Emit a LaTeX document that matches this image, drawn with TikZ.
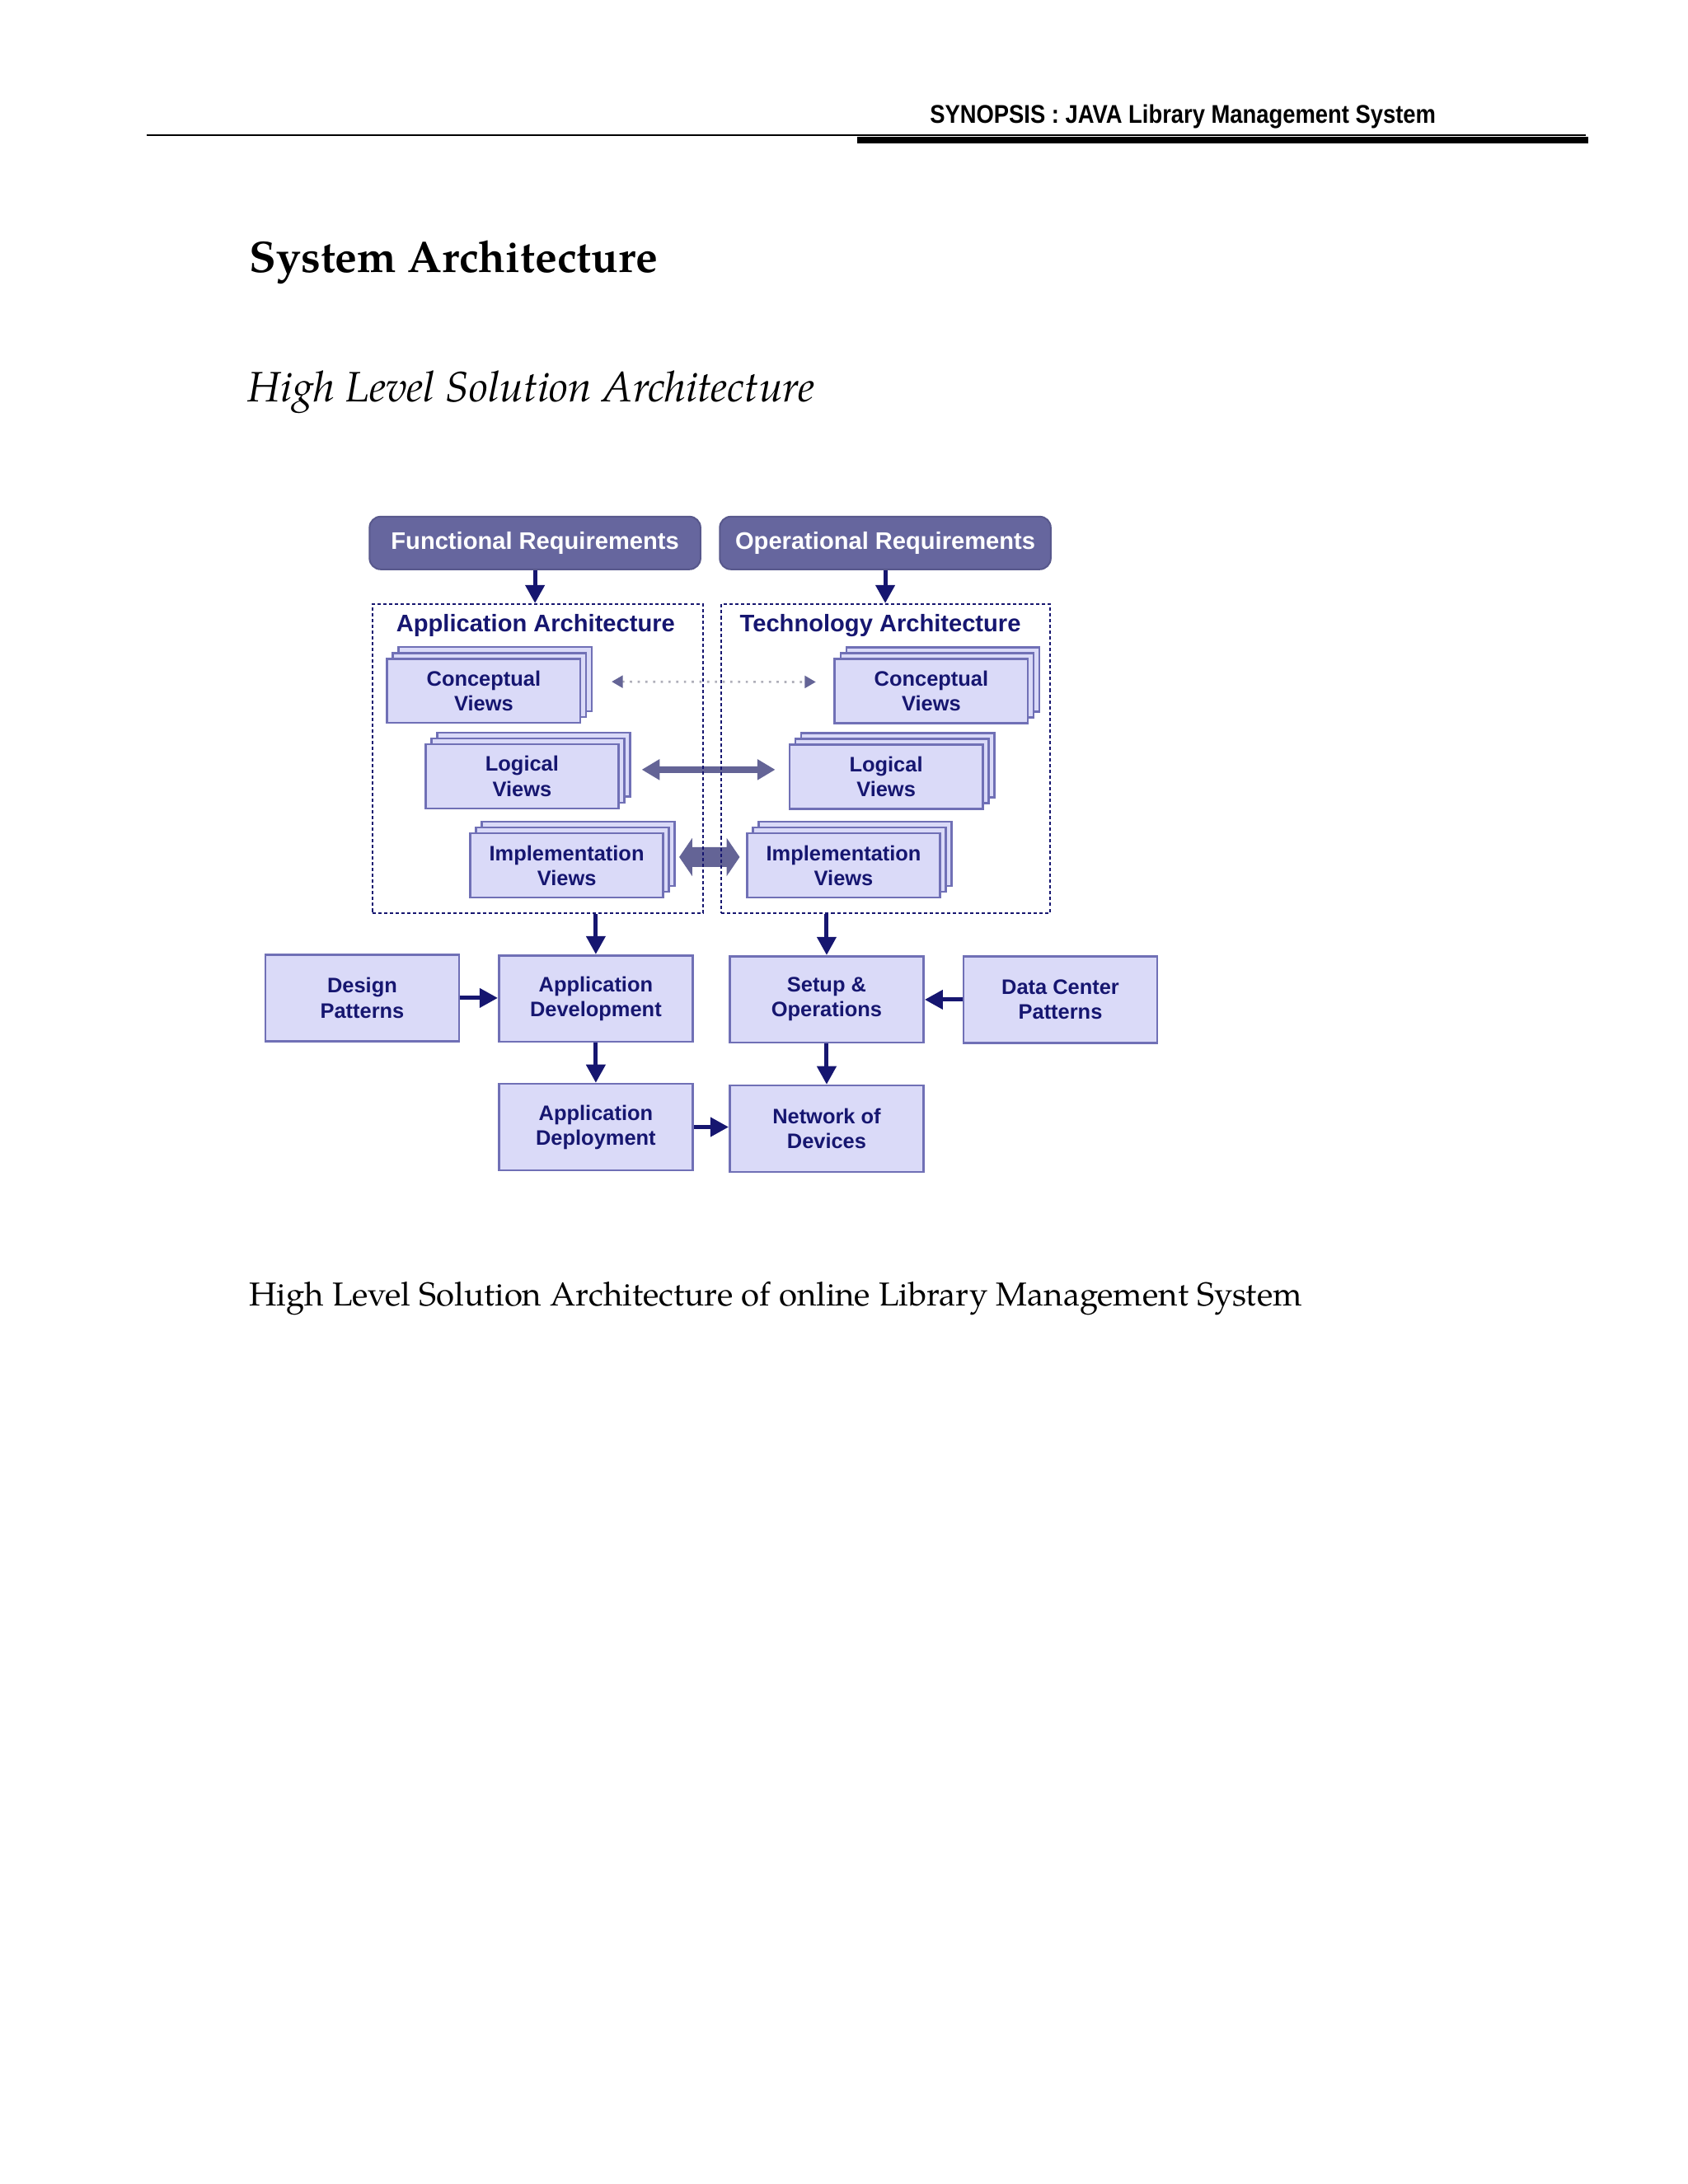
\documentclass[tikz,border=0pt]{standalone}
\usepackage{fontspec}
\setmainfont{TeX Gyre Pagella}
\newfontfamily\diagfont{Liberation Sans}
\newfontfamily\headfont[FakeStretch=0.88]{Liberation Sans}
\usetikzlibrary{arrows.meta,shadows}
\definecolor{reqfill}{RGB}{102,102,158}
\definecolor{reqline}{RGB}{88,88,140}
\definecolor{boxfill}{RGB}{218,218,248}
\definecolor{boxline}{RGB}{112,112,182}
\definecolor{navy}{RGB}{22,22,112}
\definecolor{slate}{RGB}{100,100,150}
\definecolor{dotgray}{RGB}{175,175,185}
\tikzset{
  reqbox/.style={draw=reqline, fill=reqfill, rounded corners=4pt, line width=0.6pt,
    minimum width=120pt, minimum height=19.1pt, inner sep=0pt, text=white,
    font=\diagfont\bfseries\fontsize{8.7}{10}\selectfont
  },
  archbox/.style={draw=navy, dash pattern=on 1.2pt off 0.9pt, line width=0.7pt,
    minimum height=112pt, inner sep=0pt
  },
  archlabel/.style={anchor=base west, inner sep=0pt, text=navy,
    font=\diagfont\bfseries\fontsize{8.7}{10}\selectfont
  },
  viewbox/.style={draw=boxline, fill=boxfill, line width=0.8pt, minimum width=70pt,
    minimum height=23.3pt, inner sep=0pt, align=center, text=navy,
    font=\diagfont\bfseries\fontsize{7.6}{9}\selectfont,
    double copy shadow={shadow xshift=2.1pt, shadow yshift=2.1pt, draw=boxline,
      fill=boxfill, line width=0.8pt}
  },
  stepbox/.style={draw=boxline, fill=boxfill, line width=0.8pt, minimum width=70.3pt,
    minimum height=31.3pt, inner sep=0pt, align=center, text=navy,
    font=\diagfont\bfseries\fontsize{7.6}{9}\selectfont
  },
  flow/.style={draw=navy, line width=1.5pt, -{Triangle[length=6.6pt,width=6.8pt]}},
  linkdots/.style={draw=dotgray, dotted, line width=0.8pt,
    {Triangle[length=4pt,width=4.4pt,color=slate]}-{Triangle[length=4pt,width=4.4pt,color=slate]}
  },
  linkfat/.style={draw=slate, line width=2.4pt,
    {Triangle[length=6.5pt,width=7.2pt]}-{Triangle[length=6.5pt,width=7.2pt]}
  },
  pagetext/.style={anchor=base west, inner sep=0pt}
}

\begin{document}
\begin{tikzpicture}[x=1pt,y=-1pt]
   \useasboundingbox[fill=white] (0,0) rectangle (612,792);

   % page header
   \node[pagetext, font=\headfont\bfseries\fontsize{9.3}{11}\selectfont] (header) at (337,44.8)
      {SYNOPSIS : JAVA Library Management System};
   \draw[line width=0.6pt] (53.2,49) -- (575,49);
   \draw[line width=2.4pt] (310.8,50.8) -- (575.9,50.8);

   \node[pagetext, font=\bfseries\fontsize{16}{19}\selectfont] (title) at (90.3,98.9)
      {System Architecture};
   \node[pagetext, font=\itshape\fontsize{15.4}{18}\selectfont] (subtitle) at (89.7,145.8)
      {High Level Solution Architecture};

   % requirements
   \node[reqbox] (funcreq) at (194,196.9) {Functional Requirements};
   \node[reqbox] (operreq) at (321,196.9) {Operational Requirements};

   % views
   \node[viewbox] (appconc) at (175.4,250.5) {Conceptual\\Views};
   \node[viewbox] (techconc) at (337.7,250.6) {Conceptual\\Views};
   \node[viewbox] (applog) at (189.3,281.5) {Logical\\Views};
   \node[viewbox] (techlog) at (321.3,281.7) {Logical\\Views};
   \node[viewbox] (appimpl) at (205.5,313.8) {Implementation\\Views};
   \node[viewbox] (techimpl) at (305.9,313.8) {Implementation\\Views};

   \draw[linkdots] ([xshift=11pt,yshift=3.3pt]appconc.east) -- ([xshift=-6.5pt,yshift=3.3pt]techconc.west);
   \draw[linkfat] ([xshift=8pt,yshift=2.4pt]applog.east) -- ([xshift=-4.8pt,yshift=2.6pt]techlog.west);
   \coordinate (impltip) at ([xshift=5.4pt,yshift=3pt]appimpl.east);
   \fill[slate, shift={(impltip)}] (0,0) -- (4.7,-6.9) -- (4.7,-3.6) -- (17.2,-3.6) -- (17.2,-6.9)
      -- (21.9,0) -- (17.2,6.9) -- (17.2,3.6) -- (4.7,3.6) -- (4.7,6.9) -- cycle;

   % architecture frames
   \node[archbox, minimum width=119.8pt] (apparch) at (195,275.1) {};
   \node[archbox, minimum width=119.3pt] (techarch) at (321.15,275.1) {};
   \node[archlabel] (applabel) at (143.5,229.2) {Application Architecture};
   \node[archlabel] (techlabel) at (268.1,229.2) {Technology Architecture};

   \draw[flow] (funcreq.south) -- (funcreq.south |- apparch.north);
   \draw[flow] (operreq.south) -- (operreq.south |- techarch.north);

   % delivery
   \node[stepbox] (design) at (131.35,361.9) {Design\\Patterns};
   \node[stepbox] (appdev) at (216.05,362.1) {Application\\Development};
   \node[stepbox] (setup) at (299.75,362.4) {Setup \&\\Operations};
   \node[stepbox] (datac) at (384.5,362.5) {Data Center\\Patterns};
   \node[stepbox] (appdep) at (216.05,408.7) {Application\\Deployment};
   \node[stepbox] (netdev) at (299.75,409.3) {Network of\\Devices};

   \draw[flow] (appdev.north |- apparch.south) -- (appdev.north);
   \draw[flow] (setup.north |- techarch.south) -- (setup.north);
   \draw[flow] (design.east) -- (design.east -| appdev.west);
   \draw[flow] (datac.west) -- (datac.west -| setup.east);
   \draw[flow] (appdev.south) -- (appdep.north);
   \draw[flow] (setup.south) -- (netdev.north);
   \draw[flow] (appdep.east) -- (appdep.east -| netdev.west);

   \node[pagetext, font=\fontsize{12}{14}\selectfont] (caption) at (90.2,473.7)
      {High Level Solution Architecture of online Library Management System};
\end{tikzpicture}
\end{document}
